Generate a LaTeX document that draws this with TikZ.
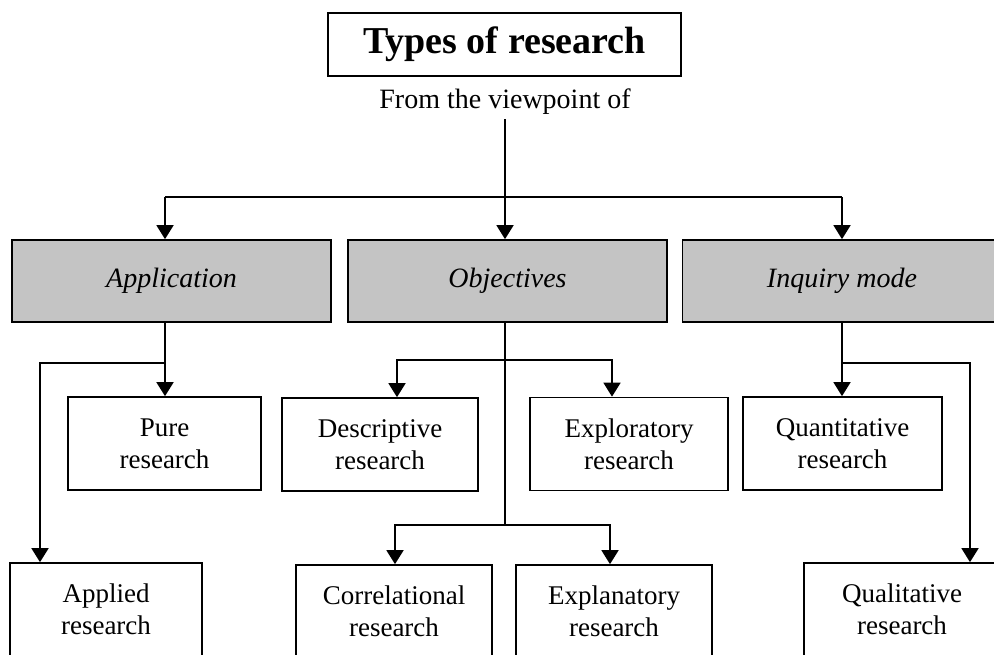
\documentclass[tikz,border=0pt]{standalone}
\usepackage{fontspec}
\setmainfont{Liberation Serif}
\usetikzlibrary{arrows.meta}
\begin{document}
\begin{tikzpicture}[x=1pt,y=-1pt,
  line width=1.7pt,
  arr/.style={-{Triangle[length=14pt,width=17pt]}},
  leaf/.style={draw, line width=1.7pt, align=center, inner sep=0pt,
    minimum height=93pt, font=\fontsize{27}{32}\selectfont},
  catbox/.style={draw, fill=black!23, inner sep=0pt, minimum height=82pt,
    minimum width=319pt, font=\fontsize{28}{34}\selectfont\itshape},
]
\useasboundingbox (0,0) rectangle (994,654);
\clip (0,0) rectangle (994,654);

% heading
\node[draw, minimum width=353pt, minimum height=63pt,
  font=\fontsize{38}{42}\selectfont\bfseries] (title) at (504.5,44.5) {Types of research};
\node[font=\fontsize{28}{34}\selectfont] (view) at (505,102) {From the viewpoint of};

% categories
\node[catbox] (app) at (171.5,281) {Application};
\node[catbox] (obj) at (507.5,281) {Objectives};
\node[catbox] (inq) at (842,281) {Inquiry mode};

% research types
\node[leaf, minimum width=193pt] (pure)  at (164.5,443.5) {Pure\\research};
\node[leaf, minimum width=196pt] (desc)  at (380,444.5)   {Descriptive\\research};
\node[leaf, minimum width=198pt] (expo)  at (629,444)     {Exploratory\\research};
\node[leaf, minimum width=199pt] (quant) at (842.5,443.5) {Quantitative\\research};
\node[leaf, minimum width=192pt] (appl)  at (106,609.5)   {Applied\\research};
\node[leaf, minimum width=196pt] (corr)  at (394,611.5)   {Correlational\\research};
\node[leaf, minimum width=196pt] (expl)  at (614,611.5)   {Explanatory\\research};
\node[leaf, minimum width=196pt] (qual)  at (902,609.5)   {Qualitative\\research};

% branch points
\coordinate (hL) at (165,197);
\coordinate (hM) at (505,197);
\coordinate (hR) at (842,197);
\coordinate (aJ) at (165,363);
\coordinate (aL) at (40,363);
\coordinate (oTL) at (397,360);
\coordinate (oTR) at (612,360);
\coordinate (oB) at (505,525);
\coordinate (oBL) at (395,525);
\coordinate (oBR) at (610,525);
\coordinate (iJ) at (842,363);
\coordinate (iR) at (970,363);

% heading to categories
\draw (view.south) -- (hM);
\draw (hL) -- (hR);
\draw[arr] (hL) -- (hL |- app.north);
\draw[arr] (hM) -- (hM |- obj.north);
\draw[arr] (hR) -- (hR |- inq.north);

% application branch
\draw (hL |- app.south) -- (aJ);
\draw[arr] (aJ) -- (aJ |- pure.north);
\draw[arr] (aJ) -- (aL) -- (aL |- appl.north);

% objectives branch
\draw (hM |- obj.south) -- (oB);
\draw[arr] (oTR) -- (oTL) -- (oTL |- desc.north);
\draw[arr] (oTL) -- (oTR) -- (oTR |- expo.north);
\draw[arr] (oBR) -- (oBL) -- (oBL |- corr.north);
\draw[arr] (oBL) -- (oBR) -- (oBR |- expl.north);

% inquiry mode branch
\draw (hR |- inq.south) -- (iJ);
\draw[arr] (iJ) -- (iJ |- quant.north);
\draw[arr] (iJ) -- (iR) -- (iR |- qual.north);
\end{tikzpicture}
\end{document}
